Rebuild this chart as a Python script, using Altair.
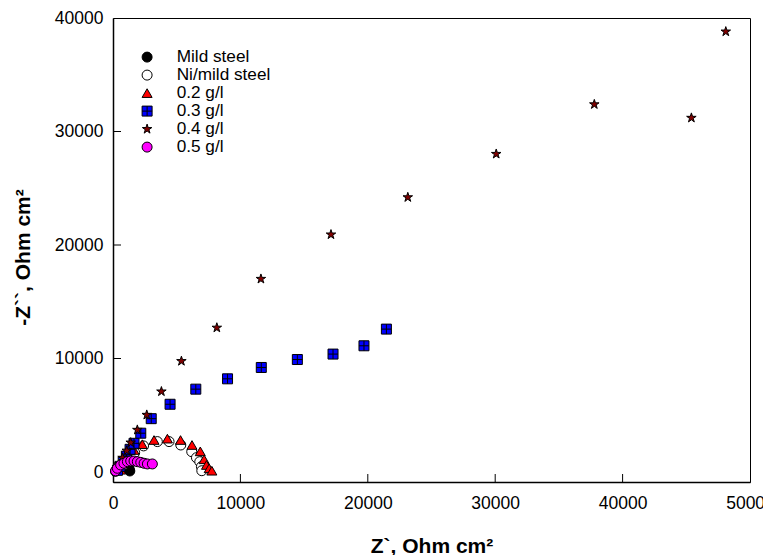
import altair as alt
import pandas as pd

series_names = ["Mild steel", "Ni/mild steel", "0.2 g/l", "0.3 g/l", "0.4 g/l", "0.5 g/l"]

mild_x = [200, 260, 350, 480, 620, 780, 930, 1080, 1200, 1280, 1320]
mild_y = [60, 200, 350, 480, 570, 610, 590, 500, 380, 230, 90]

ni_x = [500, 800, 1200, 1700, 2400, 3480, 4400, 5320, 6180, 6550, 6810, 6940, 6970]
ni_y = [200, 600, 1100, 1700, 2300, 2680, 2680, 2380, 1790, 1260, 910, 470, 115]

g02_x = [600, 950, 1260, 1650, 2300, 3220, 4270, 5300, 6200, 6850, 7150, 7340, 7550, 7760]
g02_y = [200, 800, 1500, 1940, 2450, 2820, 2940, 2820, 2380, 1820, 1120, 620, 330, 115]

g03_x = [350, 550, 800, 1050, 1340, 1650, 2180, 3000, 4480, 6500, 8990, 11640, 14470, 17270, 19700, 21460]
g03_y = [150, 500, 900, 1400, 2000, 2530, 3420, 4700, 5970, 7300, 8210, 9210, 9910, 10390, 11120, 12590]

g04_x = [300, 500, 750, 1080, 1390, 1910, 2650, 3800, 5370, 8150, 11610, 17110, 23140, 30080, 37780, 45400, 48100]
g04_y = [250, 700, 1250, 1880, 2590, 3710, 5030, 7090, 9770, 12710, 17010, 20920, 24200, 28020, 32390, 31200, 38800]

g05_x = [200, 340, 600, 860, 1130, 1390, 1650, 1910, 2180, 2440, 2700, 3090]
g05_y = [100, 330, 620, 770, 910, 970, 970, 910, 850, 770, 710, 710]

x_ticks = [10000, 20000, 30000, 40000]
y_ticks = [10000, 20000, 30000]
x_labels = [0, 10000, 20000, 30000, 40000, 50000]
y_labels = [0, 10000, 20000, 30000, 40000]

fills = ["black", "white", "#ff0000", "#0000ff", "#800000", "#ff00ff"]
strokes = ["black"] * 6
star = "M0,-1L0.2245,-0.309L0.951,-0.309L0.363,0.118L0.588,0.809L0,0.382L-0.588,0.809L-0.363,0.118L-0.951,-0.309L-0.2245,-0.309Z"
sqcross = "M-1,-1H1V1H-1Z M0,-1V1 M-1,0H1"
shapes = ["circle", "circle", "triangle-up", sqcross, star, "circle"]

rows = []
for i, (xs, ys) in enumerate([(mild_x, mild_y), (ni_x, ni_y), (g02_x, g02_y),
                               (g03_x, g03_y), (g04_x, g04_y), (g05_x, g05_y)]):
    for x, y in zip(xs, ys):
        rows.append({"series": series_names[i], "order": i, "x": x, "y": y})
df = pd.DataFrame(rows)

FONT = "Liberation Sans"
W, H = 637, 464


def leg():
    return alt.Legend(title=None, orient="none", legendX=25.5, legendY=30.5,
                      labelFontSize=17.2, labelFont=FONT, symbolSize=100,
                      symbolStrokeWidth=1, symbolOpacity=1, rowPadding=0,
                      labelOffset=21, padding=0, labelColor="black")


xscale = alt.Scale(domain=[0, 50000], nice=False, zero=False)
yscale = alt.Scale(domain=[-880, 40000], nice=False, zero=False)

points = alt.Chart(df).mark_point(filled=True, strokeWidth=1, size=100, opacity=1).encode(
    x=alt.X("x:Q", scale=xscale,
            axis=alt.Axis(title="Z`, Ohm cm²", values=x_labels, format="d", grid=False,
                          ticks=False, labelPadding=12, labelFlush=False,
                          titleBaseline="alphabetic", titleY=70, titleAlign="center",
                          titleX=W / 2, domainColor="black", domainWidth=1.5)),
    y=alt.Y("y:Q", scale=yscale,
            axis=alt.Axis(title="-Z``, Ohm cm²", values=y_labels, format="d", grid=False,
                          ticks=False, labelPadding=10, labelFlush=False,
                          titleBaseline="alphabetic", titleAngle=270, titleAlign="center",
                          titleX=-84, titleY=239, domainColor="black", domainWidth=1.5)),
    fill=alt.Fill("series:N", scale=alt.Scale(domain=series_names, range=fills), legend=leg()),
    shape=alt.Shape("series:N", scale=alt.Scale(domain=series_names, range=shapes), legend=leg()),
    stroke=alt.Stroke("series:N", scale=alt.Scale(domain=series_names, range=strokes), legend=leg()),
    order=alt.Order("order:Q"),
)

xt = alt.Chart(pd.DataFrame({"t": x_ticks})).mark_rule(color="black", strokeWidth=1).encode(
    x=alt.X("t:Q", scale=xscale), y=alt.value(H), y2=alt.value(H - 8))
yt = alt.Chart(pd.DataFrame({"t": y_ticks})).mark_rule(color="black", strokeWidth=1).encode(
    y=alt.Y("t:Q", scale=yscale), x=alt.value(0), x2=alt.value(8))

chart = alt.layer(xt, yt, points).properties(
    width=W, height=H,
    autosize=alt.AutoSizeParams(type="none"),
    padding={"left": 113, "top": 18, "right": 13, "bottom": 73},
    background="white",
).configure_view(stroke="black", strokeWidth=1).configure_axis(
    labelFont=FONT, labelFontSize=17.5, labelColor="black",
    titleFont=FONT, titleFontSize=21, titleFontWeight="bold", titleColor="black",
)

chart.save("out.html", embed_options={"renderer": "svg", "actions": False})
